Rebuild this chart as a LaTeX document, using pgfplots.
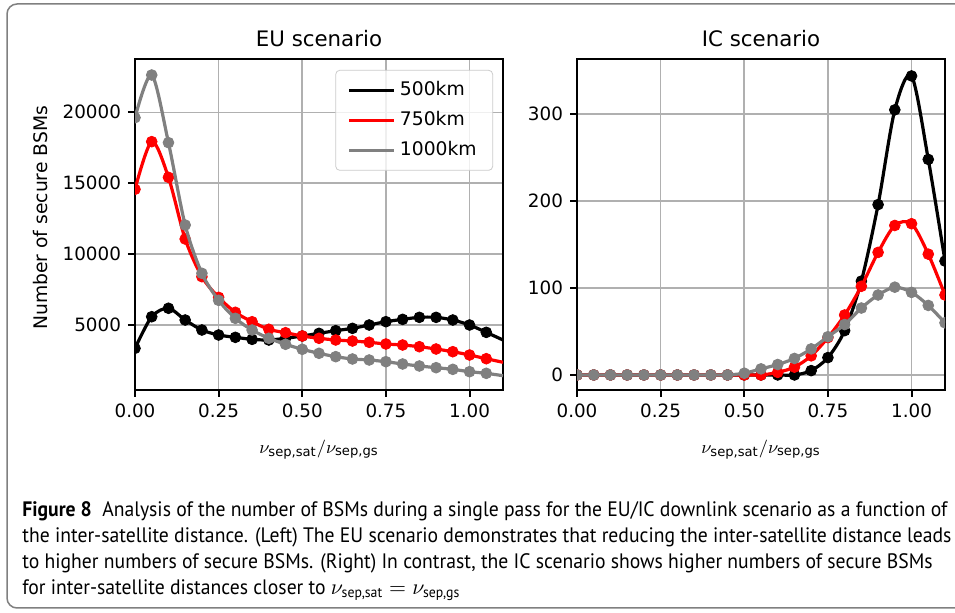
\documentclass[border=0pt]{standalone}
\usepackage{fontspec}
\setmainfont{DejaVu Sans}
\newfontfamily\capfont[FakeStretch=0.94]{PT Sans}
\usepackage{amsmath}
\usepackage{pgfplots}
\usepackage{pgfplotstable}
\pgfplotsset{compat=1.18}
\definecolor{gridgray}{HTML}{B0B0B0}
\definecolor{legframe}{HTML}{CCCCCC}
\definecolor{framegray}{HTML}{808080}
\definecolor{mgray}{HTML}{808080}
\definecolor{mred}{HTML}{FF0000}

\pgfplotstableread{
x b r g
0.00 3355 14570 19620
0.05 5583 17930 22630
0.10 6180 15415 17860
0.15 5352 11065 12050
0.20 4647 8408 8645
0.25 4295 6950 6740
0.30 4130 5895 5470
0.35 3989 5230 4647
0.40 3942 4697 4062
0.45 4062 4457 3640
0.50 4224 4224 3286
0.55 4412 4062 3004
0.60 4600 3942 2767
0.65 4764 3871 2603
0.70 5000 3780 2532
0.75 5234 3660 2413
0.80 5398 3589 2250
0.85 5540 3470 2109
0.90 5540 3307 1990
0.95 5352 3117 1873
1.00 5000 2884 1707
1.05 4482 2623 1592
1.10 3942 2370 1425
}\eutable

\pgfplotstableread{
x b r g
0.00 0 0 0
0.05 0 0 0
0.10 0 0 0
0.15 0 0 0
0.20 0 0 0
0.25 0 0 0
0.30 0 0 0
0.35 0 0 0
0.40 0 0 0
0.45 0 0 0
0.50 0 0 2
0.55 0 0 7
0.60 0 3 12
0.65 0 9 19
0.70 5 22 30
0.75 20 43 44
0.80 51 69 58
0.85 108 102 77
0.90 196 141 92
0.95 305 172 101
1.00 344 174 95
1.05 248 139 80
1.10 131 92 60
}\ictable

\pgfplotsset{
  myax/.style={
    scale only axis, width=184bp, height=165.5bp,
    xmin=0, xmax=1.1,
    xtick={0,0.25,0.5,0.75,1},
    xticklabel style={/pgf/number format/.cd,fixed,fixed zerofill,precision=2,/tikz/.cd},
    scaled x ticks=false, scaled y ticks=false,
    grid=major, grid style={line width=0.8bp, color=gridgray},
    axis line style={line width=1bp},
    every tick/.style={line width=1bp, black},
    major tick length=3.5bp,
    tick align=outside, tick pos=left,
    ticklabel style={font=\fontsize{9.2}{10}\selectfont},
    /pgf/number format/assume math mode=true,
    /pgf/number format/1000 sep={},
    title style={font=\fontsize{10.7}{12}\selectfont, at={(0.5,1)}, anchor=base, yshift=0.5bp},
    xlabel style={font=\fontsize{9.4}{10}\selectfont, at={(axis description cs:0.5,-0.181)}, anchor=center},
    ylabel style={font=\fontsize{9.4}{10}\selectfont, at={(axis description cs:-0.258,0.52)}, anchor=center},
    clip marker paths=true,
  },
  ln/.style={line width=1.6bp, smooth, no markers, color=#1},
  mk/.style={only marks, mark=*, mark size=2.7bp, color=#1, mark options={draw=#1, fill=#1}, forget plot},
}

\begin{document}
\begin{tikzpicture}
\useasboundingbox (0,0) rectangle (477.5bp,306.5bp);
\fill[white] (0,0) rectangle (477.5bp,306.5bp);
\draw[line width=0.75bp, color=framegray, rounded corners=5bp] (480bp,2.5bp) -- (3.5bp,2.5bp) -- (3.5bp,304.5bp) -- (480bp,304.5bp);

\begin{axis}[myax, at={(67.5bp,111.5bp)}, anchor=south west,
  ymin=416, ymax=23760,
  ytick={5000,10000,15000,20000},
  title={EU scenario},
  xlabel={$\nu_{\text{sep,sat}}/\nu_{\text{sep,gs}}$},
  ylabel={Number of secure BSMs},
  legend style={at={(0.973,0.967)}, anchor=north east, draw=legframe, rounded corners=2bp,
    fill=white, fill opacity=0.8, text opacity=1, font=\fontsize{9.4}{10}\selectfont,
    inner xsep=6bp, inner ysep=5bp, row sep=5bp,
    nodes={inner ysep=1bp, text height=6.5bp, text depth=1.5bp}},
  legend image code/.code={\draw[#1] (0bp,0bp) -- (22.5bp,0bp);},
  legend cell align=left,
]
\addplot[ln=black] table[x=x,y=b] {\eutable};
\addlegendentry{500km}
\addplot[mk=black, restrict x to domain=0:1.06] table[x=x,y=b] {\eutable};
\addplot[ln=mred] table[x=x,y=r] {\eutable};
\addlegendentry{750km}
\addplot[mk=mred, restrict x to domain=0:1.06] table[x=x,y=r] {\eutable};
\addplot[ln=mgray] table[x=x,y=g] {\eutable};
\addlegendentry{1000km}
\addplot[mk=mgray, restrict x to domain=0:1.06] table[x=x,y=g] {\eutable};
\end{axis}

\begin{axis}[myax, at={(288.5bp,111.5bp)}, anchor=south west,
  ymin=-17.3, ymax=363.5,
  ytick={0,100,200,300},
  title={IC scenario},
  xlabel={$\nu_{\text{sep,sat}}/\nu_{\text{sep,gs}}$},
]
\addplot[ln=black] table[x=x,y=b] {\ictable};
\addplot[mk=black] table[x=x,y=b] {\ictable};
\addplot[ln=mred] table[x=x,y=r] {\ictable};
\addplot[mk=mred] table[x=x,y=r] {\ictable};
\addplot[ln=mgray] table[x=x,y=g] {\ictable};
\addplot[mk=mgray] table[x=x,y=g] {\ictable};
\end{axis}

\node[anchor=north west, inner sep=0pt, align=left, font=\capfont\fontsize{10.5}{13}\selectfont] at (11bp,56bp)
{\textbf{Figure 8}\hspace{0.5em}Analysis of the number of BSMs during a single pass for the EU/IC downlink scenario as a function of\\
the inter-satellite distance. (Left) The EU scenario demonstrates that reducing the inter-satellite distance leads\\
to higher numbers of secure BSMs. (Right) In contrast, the IC scenario shows higher numbers of secure BSMs\\
for inter-satellite distances closer to $\nu_{\text{sep,sat}} = \nu_{\text{sep,gs}}$};
\end{tikzpicture}
\end{document}
